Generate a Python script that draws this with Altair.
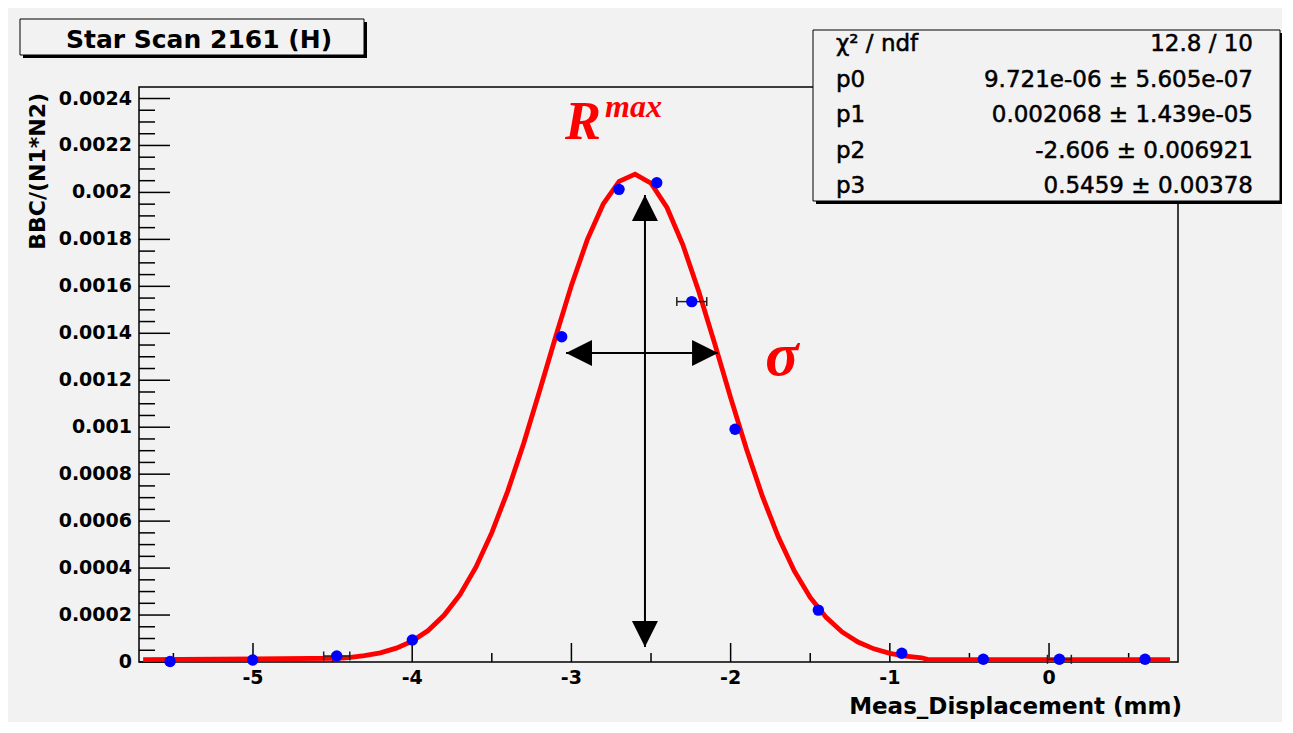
import altair as alt
import pandas as pd

# ---------------- data ----------------
pt_x = [-5.521, -5.002, -4.474, -3.999, -3.061, -2.701, -2.464, -2.244,
        -1.972, -1.449, -0.925, -0.413, 0.065, 0.603]
pt_y = [0.0000020, 0.0000085, 0.0000256, 0.0000937, 0.001385, 0.002013,
        0.002041, 0.001535, 0.000991, 0.000221, 0.000037, 0.0000115,
        0.0000115, 0.0000115]
pt_xerr = [0, 0, 0.082, 0, 0, 0, 0, 0.094, 0, 0, 0, 0, 0.075, 0]

# fitted curve (red), y in units of 1e-4
fit_x = [-5.69, -4.47, -4.4, -4.3, -4.2, -4.1, -4.0, -3.9, -3.8, -3.7, -3.6,
         -3.5, -3.4, -3.3, -3.2, -3.1, -3.0, -2.9, -2.8, -2.7, -2.6, -2.5,
         -2.4, -2.3, -2.2, -2.1, -2.0, -1.9, -1.8, -1.7, -1.6, -1.5, -1.4,
         -1.3, -1.2, -1.1, -1.0, -0.9, -0.8, -0.76, 0.76]
fit_y_e4 = [0.10, 0.16, 0.19, 0.27, 0.39, 0.59, 0.89, 1.34, 1.99, 2.87, 4.04,
            5.51, 7.28, 9.31, 11.54, 13.83, 16.04, 17.99, 19.51, 20.47, 20.78,
            20.39, 19.36, 17.77, 15.78, 13.56, 11.26, 9.06, 7.05, 5.32, 3.88,
            2.75, 1.90, 1.28, 0.85, 0.56, 0.37, 0.25, 0.18, 0.10, 0.10]

x_major = [-5, -4, -3, -2, -1, 0]
x_labels = ["-5", "-4", "-3", "-2", "-1", "0"]
x_minor = [-5.5, -4.5, -3.5, -2.5, -1.5, -0.5, 0.5]
y_major = [0, 0.0002, 0.0004, 0.0006, 0.0008, 0.001, 0.0012, 0.0014,
           0.0016, 0.0018, 0.002, 0.0022, 0.0024]
y_labels = ["0", "0.0002", "0.0004", "0.0006", "0.0008", "0.001", "0.0012",
            "0.0014", "0.0016", "0.0018", "0.002", "0.0022", "0.0024"]
y_minor = [round(k * 0.00005, 6) for k in range(48) if k % 4]

title_text = "Star Scan 2161 (H)"
x_title = "Meas_Displacement (mm)"
y_title = "BBC/(N1*N2)"
stat_names = ["χ² / ndf", "p0", "p1", "p2", "p3"]
stat_values = ["12.8 / 10", "9.721e-06 ± 5.605e-07", "0.002068 ± 1.439e-05",
               "-2.606 ± 0.006921", "0.5459 ± 0.00378"]

# annotation arrows / labels (data coordinates)
v_arrow_x = -2.538
v_arrow_y = [0.0000639, 0.001989]
h_arrow_y = 0.001316
h_arrow_x = [-3.034, -2.079]
rmax_pos = (-3.040, 0.002227)
max_pos = (-2.789, 0.002321)
sigma_pos = (-1.677, 0.001222)

# ---------------- chart ----------------
W, H = 1039, 575
xs = alt.Scale(domain=[-5.716, 0.81], nice=False, zero=False)
ys = alt.Scale(domain=[0, 0.002449], nice=False, zero=False)
FONT = "DejaVu Sans"
one = alt.Data(values=[{}])


def X(field):
    return alt.X(field, type="quantitative", scale=xs, axis=None)


def Y(field):
    return alt.Y(field, type="quantitative", scale=ys, axis=None)


# tick marks (inward, ROOT style)
def yticks(vals, length):
    return alt.Chart(pd.DataFrame({"v": vals})).mark_rule(
        color="black", strokeWidth=1.5).encode(
        y=Y("v"), x=alt.value(0), x2=alt.value(length))


def xticks(vals, length):
    return alt.Chart(pd.DataFrame({"v": vals})).mark_rule(
        color="black", strokeWidth=1.5).encode(
        x=X("v"), y=alt.value(H), y2=alt.value(H - length))


ty_major = yticks(y_major, 31)
ty_minor = yticks(y_minor, 16)
tx_major = xticks(x_major, 19)
tx_minor = xticks(x_minor, 9)

ylab = alt.Chart(pd.DataFrame({"v": y_major, "t": y_labels})).mark_text(
    font=FONT, fontWeight="bold", fontSize=19, color="black", align="right",
    baseline="middle").encode(y=Y("v"), x=alt.value(-7), text="t:N")
xlab = alt.Chart(pd.DataFrame({"v": x_major, "t": x_labels})).mark_text(
    font=FONT, fontWeight="bold", fontSize=19, color="black", align="center",
    baseline="top").encode(x=X("v"), y=alt.value(H + 7), text="t:N")
ytitle = alt.Chart(one).mark_text(
    text=y_title, font=FONT, fontWeight="bold", fontSize=22, color="black",
    align="right", baseline="alphabetic", angle=270).encode(
    x=alt.value(-94), y=alt.value(6))
xtitle = alt.Chart(one).mark_text(
    text=x_title, font=FONT, fontWeight="bold", fontSize=23, color="black",
    align="right", baseline="alphabetic").encode(
    x=alt.value(1043), y=alt.value(H + 52))

fit_df = pd.DataFrame({"x": fit_x, "y": [v * 1e-4 for v in fit_y_e4],
                       "i": list(range(len(fit_x)))})
curve = alt.Chart(fit_df).mark_line(color="#ff0000", strokeWidth=4.8).encode(
    x=X("x"), y=Y("y"), order="i:Q")

pts_df = pd.DataFrame({"x": pt_x, "y": pt_y, "e": pt_xerr})
pts_df["lo"] = pts_df["x"] - pts_df["e"]
pts_df["hi"] = pts_df["x"] + pts_df["e"]
err_df = pts_df[pts_df["e"] > 0]

err_line = alt.Chart(err_df).mark_rule(color="#222222", strokeWidth=1.5).encode(
    x=X("lo"), x2="hi:Q", y=Y("y"))
cap_lo = alt.Chart(err_df).mark_tick(orient="vertical", size=9, thickness=1.5,
                                     color="#222222", opacity=1).encode(
    x=X("lo"), y=Y("y"))
cap_hi = alt.Chart(err_df).mark_tick(orient="vertical", size=9, thickness=1.5,
                                     color="#222222", opacity=1).encode(
    x=X("hi"), y=Y("y"))

points = alt.Chart(pts_df).mark_point(shape="circle", filled=True, size=130,
                                      color="#0000ff", opacity=1).encode(
    x=X("x"), y=Y("y"))

# arrows
v_line = alt.Chart(pd.DataFrame({"x": [v_arrow_x], "y1": [v_arrow_y[0]],
                                 "y2": [v_arrow_y[1]]})).mark_rule(
    color="black", strokeWidth=2).encode(x=X("x"), y=Y("y1"), y2="y2:Q")
h_line = alt.Chart(pd.DataFrame({"y": [h_arrow_y], "x1": [h_arrow_x[0]],
                                 "x2": [h_arrow_x[1]]})).mark_rule(
    color="black", strokeWidth=2).encode(y=Y("y"), x=X("x1"), x2="x2:Q")


def head(x, y, path):
    return alt.Chart(pd.DataFrame({"x": [x], "y": [y]})).mark_point(
        shape=path, size=676, filled=True, color="black", opacity=1,
        strokeWidth=0).encode(x=X("x"), y=Y("y"))


head_up = head(v_arrow_x, v_arrow_y[1], "M0,0L-1,2L1,2Z")
head_dn = head(v_arrow_x, v_arrow_y[0], "M0,0L-1,-2L1,-2Z")
head_lf = head(h_arrow_x[0], h_arrow_y, "M0,0L2,-1L2,1Z")
head_rt = head(h_arrow_x[1], h_arrow_y, "M0,0L-2,-1L-2,1Z")


def label(pos, text, size, align):
    return alt.Chart(pd.DataFrame({"x": [pos[0]], "y": [pos[1]]})).mark_text(
        text=text, font="Liberation Serif", fontStyle="italic", fontWeight="bold",
        fontSize=size, color="#ff0000", align=align, baseline="alphabetic").encode(
        x=X("x"), y=Y("y"))


lab_r = label(rmax_pos, "R", 54, "left")
lab_max = label(max_pos, "max", 32, "left")
lab_sigma = label(sigma_pos, "σ", 62, "center")


# boxes (pixel placement relative to the plot frame)
def box(x1, y1, x2, y2, shadow=3):
    sh = alt.Chart(one).mark_rect(color="black").encode(
        x=alt.value(x1 + shadow), x2=alt.value(x2 + shadow),
        y=alt.value(y1 + shadow), y2=alt.value(y2 + shadow))
    bx = alt.Chart(one).mark_rect(fill="#f2f2f2", stroke="black",
                                  strokeWidth=1).encode(
        x=alt.value(x1), x2=alt.value(x2), y=alt.value(y1), y2=alt.value(y2))
    return [sh, bx]


title_box = box(-119, -68, 225, -32)
title_txt = alt.Chart(one).mark_text(
    text=title_text, font=FONT, fontWeight="bold", fontSize=25, color="black",
    align="center", baseline="alphabetic").encode(x=alt.value(60), y=alt.value(-39))

stats_box = box(674, -57, 1141, 114)
stats_left = alt.Chart(one).mark_text(
    text=stat_names, font=FONT, fontSize=23, color="black", align="left",
    baseline="alphabetic", lineHeight=35.5, stroke="black",
    strokeWidth=0.5).encode(x=alt.value(697), y=alt.value(-36))
stats_right = alt.Chart(one).mark_text(
    text=stat_values, font=FONT, fontSize=23, color="black", align="right",
    baseline="alphabetic", lineHeight=35.5, stroke="black",
    strokeWidth=0.5).encode(x=alt.value(1114), y=alt.value(-36))

chart = alt.layer(
    ty_major, ty_minor, tx_major, tx_minor, ylab, xlab, ytitle, xtitle,
    curve, err_line, cap_lo, cap_hi, points,
    v_line, h_line, head_up, head_dn, head_lf, head_rt,
    lab_r, lab_max, lab_sigma,
    *title_box, title_txt,
    *stats_box, stats_left, stats_right,
).properties(
    width=W, height=H,
    background="#f2f2f2",
    autosize=alt.AutoSizeParams(type="none"),
    padding={"left": 131, "top": 79, "right": 104, "bottom": 60},
).configure_view(
    stroke="black", strokeWidth=1.5
)

chart.save("out.html", embed_options={"renderer": "svg", "actions": False})
